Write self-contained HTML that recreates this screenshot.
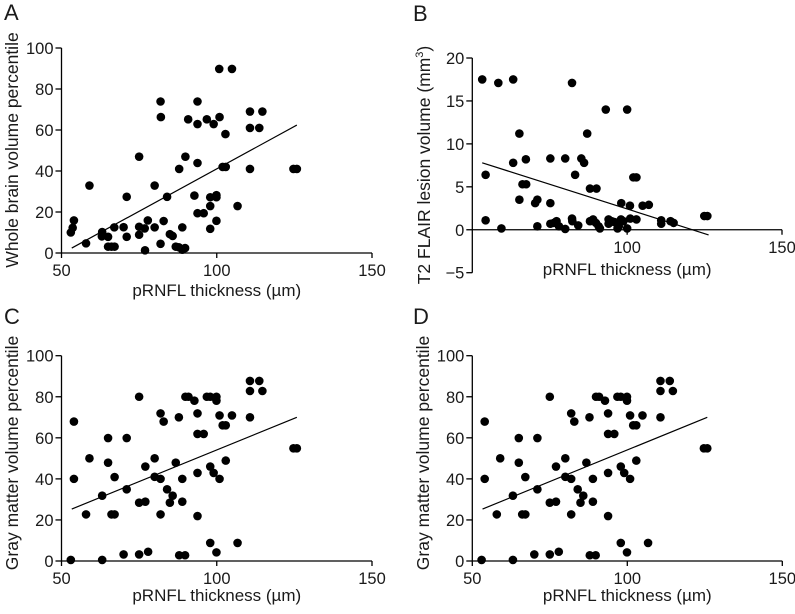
<!DOCTYPE html>
<html><head><meta charset="utf-8"><style>
body{margin:0;background:#fff;}
svg text{font-family:"Liberation Sans",sans-serif;fill:#1a1a1a;}
</style></head><body>
<svg id="fig" width="795" height="609" viewBox="0 0 795 609" xmlns="http://www.w3.org/2000/svg"></svg>
<script>
const xTicks=[50,100,150];
const yTicksPct=[0,20,40,60,80,100];
const yTicksB=[-5,0,5,10,15,20];
const aX=[53,53.6,54,57.9,59,63.1,63,65,65,66.1,67.1,67,70,71,71,75,75,75,76.8,77.8,76.9,80,80,81.9,82,81.9,82.9,84,84.9,85.8,86.8,87.8,87.9,88.9,88.9,89.8,89.9,90.8,92.8,93.8,93.8,93.8,93.8,95.8,96.8,97.9,97.9,97.9,99,99.9,99.9,99.9,100.8,100.9,101.9,102.8,102.9,104.9,106.7,110.7,110.7,110.7,113.7,114.7,124.7,125.8];
const aY=[10,12.3,15.9,4.7,32.9,10.2,8.1,7.9,3.1,3.1,3.1,12.5,12.6,7.9,27.4,47,12.8,8.9,12,15.9,1.3,32.9,12.5,73.9,66.3,4.5,15.6,27.4,9.2,8.3,3.1,2.8,41,12.5,1.6,2.4,47,65.2,28,73.9,62.9,43.9,19.4,19.4,65.2,22.9,27.2,11.8,62.9,28.2,27.2,15.7,89.8,66.3,42,58,42,89.8,22.9,69,61,41,61,69,41,41];
const aFit=[[53.3,2.4],[125.8,62.4]];
const bX=[53.2,54.3,54.3,58.4,59.4,63.2,63.2,65.2,65.2,66.2,67.4,67.3,70.3,71,71,75.2,75.2,75.2,76.3,77.2,78,80,80,82.2,82.2,82.3,83.2,84.2,85.2,86.1,87.1,88,90.1,88,89,89.9,90.8,91.2,93.1,94,94,95,95.9,96.9,97.3,98.1,98,98.8,100,100,100.9,101,102,103,103,105,107,111,111,114,115,124.9,125.9];
const bY=[17.5,6.4,1.1,17.1,0.15,17.5,7.8,11.2,3.5,5.3,5.3,8.2,3.1,3.5,0.4,8.3,3.1,0.7,0.8,1,0.4,0.1,8.3,17.1,1.3,1,6.4,0.5,8.3,7.8,11.2,4.8,4.8,1,1.2,0.8,0.4,0.15,14,1.2,0.7,1,0.9,0.15,0.4,3.1,1.2,1,14,0.15,2.8,1.3,6.1,6.1,1.2,2.8,2.9,1.1,0.7,1,0.8,1.6,1.6];
const bFit=[[53.2,7.8],[126.3,-0.6]];
const cX=[53,54,54,57.9,59,63.1,63.1,65,65,66.1,67.1,67.1,70,71,71,75,75,75,77,77,77.9,80,80,81.9,81.9,81.9,82.9,84,84.9,85.8,86.8,87.8,87.9,88.9,88.9,89.8,89.9,90.9,92.8,93.8,93.8,93.8,93.8,95.8,96.8,97.9,97.9,97.9,99,99.9,99.9,99.9,100.9,100.9,101.9,102.9,102.9,104.9,106.7,110.7,110.7,110.7,113.7,114.7,124.7,125.8];
const cY=[0.5,67.9,40,22.7,50,31.8,0.5,59.9,47.9,22.7,22.7,40.9,3.2,59.9,34.9,80,28.4,3.2,46,28.9,4.5,50,41,71.9,40,22.7,67.9,34.9,28.4,31.8,47.9,70,2.8,40,28.9,2.8,80,80,78.1,71.9,61.9,42.9,21.9,61.9,80,80,46,8.8,42.9,80,78.1,4.2,70.9,40,66.1,66.1,48.9,70.9,8.8,87.7,82.8,70,87.7,82.8,54.9,54.9];
const cFit=[[53.3,25.3],[125.8,70]];

const svg=document.getElementById('fig');
const NS='http://www.w3.org/2000/svg';
function mk(tag,attrs,parent){const e=document.createElementNS(NS,tag);for(const k in attrs)e.setAttribute(k,attrs[k]);parent.appendChild(e);return e;}

function panel(p){
  const g=mk('g',{},svg);
  
  
  const sx=v=>p.x0+(v-50)/100*(p.x1-p.x0);
  const sy=v=>p.yb+(v-p.ymin)/(p.ymax-p.ymin)*(p.yt-p.yb);
  const lt=mk('text',{x:p.lx,y:p.ly,'font-size':22},g);lt.textContent=p.letter;
  
  
  const yax=mk('line',{x1:p.x0,y1:sy(p.ymin),x2:p.x0,y2:sy(p.ymax),stroke:'#000','stroke-width':1.3},g);
  
  
  const xy=sy(0);
  const xax=mk('line',{x1:p.x0,y1:xy,x2:p.x1,y2:xy,stroke:'#000','stroke-width':1.3},g);
  
  
  p.yt_.forEach(v=>{
    const y=sy(v);
    mk('line',{x1:p.x0-6,y1:y,x2:p.x0,y2:y,stroke:'#000','stroke-width':1.3},g);
    const t=mk('text',{x:p.x0-8,y:y+6,'font-size':16.5,'text-anchor':'end'},g);
    t.textContent=v<0?'\u2212'+Math.abs(v):v;
    
    
  });
  xTicks.forEach(v=>{
    if(p.skip50&&v===50)return;
    const x=sx(v);
    mk('line',{x1:x,y1:xy,x2:x,y2:xy+5,stroke:'#000','stroke-width':1.3},g);
    const t=mk('text',{x:x,y:xy+23,'font-size':16.5,'text-anchor':'middle'},g);
    t.textContent=v;
    
    
  });
  const xt=mk('text',{x:(p.x0+p.x1)/2,y:p.xty,'font-size':17,'text-anchor':'middle'},g);
  xt.textContent='pRNFL thickness (\u00b5m)';
  
  
  const yt=mk('text',{x:0,y:0,'font-size':17.5,'text-anchor':'middle',transform:`translate(${p.ytx},${p.ytc}) rotate(-90)`},g);
  yt.innerHTML=p.ytitle;
  
  
  p.xs.forEach((v,i)=>{
    const c=mk('circle',{cx:sx(v),cy:sy(p.ys[i]),r:4.3,fill:'#000'},g);
    
    
  });
  const f=mk('line',{x1:sx(p.fit[0][0]),y1:sy(p.fit[0][1]),x2:sx(p.fit[1][0]),y2:sy(p.fit[1][1]),stroke:'#000','stroke-width':1.2},g);
  
  
}
panel({name:'panel-a',letter:'A',lx:4,ly:20,x0:61.5,x1:372,yb:253,yt:48,ymin:0,ymax:100,yt_:yTicksPct,xs:aX,ys:aY,fit:aFit,xty:296,ytx:18,ytc:150,ytitle:'Whole brain volume percentile'});
panel({name:'panel-b',letter:'B',lx:413,ly:21,x0:472.3,x1:782,yb:272.7,yt:58,ymin:-5,ymax:20,yt_:yTicksB,xs:bX,ys:bY,fit:bFit,xty:275,ytx:430,ytc:165,skip50:true,ytitle:'T2 FLAIR lesion volume (mm<tspan dy="-7" font-size="11">3</tspan><tspan dy="7">)</tspan>'});
panel({name:'panel-c',letter:'C',lx:4,ly:324,x0:61.5,x1:372,yb:561,yt:355.7,ymin:0,ymax:100,yt_:yTicksPct,xs:cX,ys:cY,fit:cFit,xty:601,ytx:18,ytc:453,ytitle:'Gray matter volume percentile'});
panel({name:'panel-d',letter:'D',lx:413,ly:324,x0:472.3,x1:782.3,yb:561,yt:355.7,ymin:0,ymax:100,yt_:yTicksPct,xs:cX,ys:cY,fit:cFit,xty:601,ytx:429,ytc:453,ytitle:'Gray matter volume percentile'});
</script>
</body></html>
